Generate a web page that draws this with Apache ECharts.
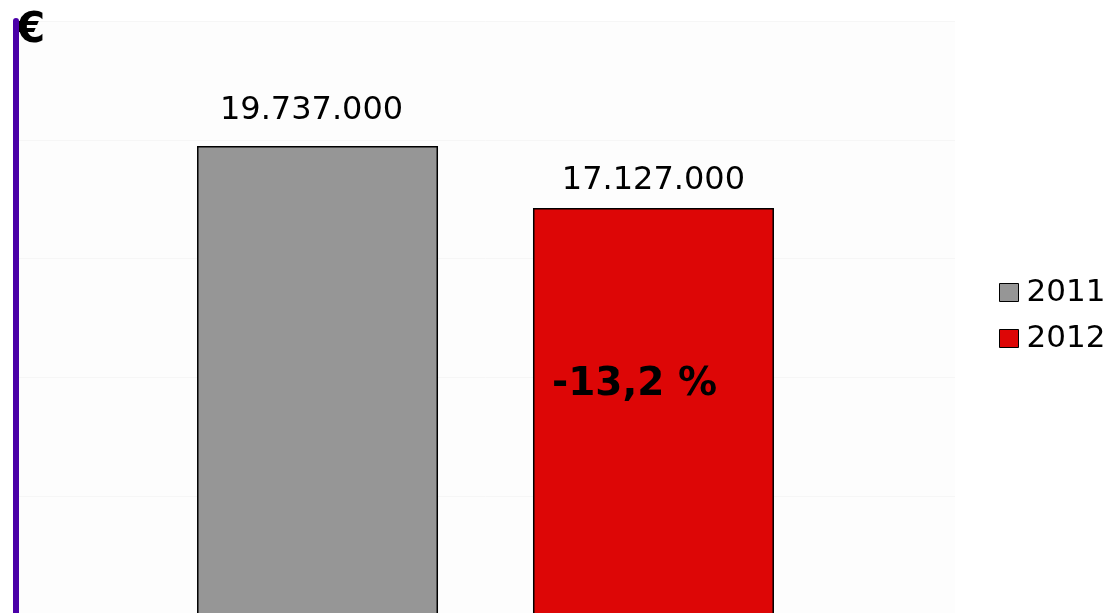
<!DOCTYPE html>
<html>
<head>
<meta charset="utf-8">
<script src="https://cdn.jsdelivr.net/npm/echarts@6/dist/echarts.min.js"></script>
<style>
html,body{margin:0;padding:0;background:#ffffff;}
#chart{width:1111px;height:613px;}
</style>
</head>
<body>
<div id="chart"></div>
<script>
var years = ['2011', '2012'];
var values = [19737000, 17127000];
var colors = ['#969696', '#DD0606'];
var changeText = '-13,2 %';
var axisName = '€';

function fmt(v) {
  return String(v).replace(/\B(?=(\d{3})+(?!\d))/g, '.');
}

var labelOffsets = [[-6, 0], [0, 8]];

var chart = echarts.init(document.getElementById('chart'));
var series = years.map(function (y, i) {
  return {
    name: y,
    type: 'bar',
    data: [values[i]],
    barWidth: 241,
    barGap: '39.4%',
    itemStyle: { color: colors[i], borderColor: '#000000', borderWidth: 1.5 },
    label: {
      show: true,
      position: 'top',
      distance: 19,
      offset: labelOffsets[i],
      formatter: function (p) { return fmt(p.value); },
      fontFamily: 'DejaVu Sans',
      fontSize: 32,
      color: '#000000'
    }
  };
});

chart.setOption({
  animation: false,
  backgroundColor: '#ffffff',
  grid: {
    left: 16, width: 939, top: 21, height: 594,
    outerBoundsMode: 'none',
    show: true, backgroundColor: '#fdfdfd', borderWidth: 0
  },
  legend: {
    orient: 'vertical',
    left: 999,
    top: 277,
    padding: 0,
    itemWidth: 19,
    itemHeight: 18,
    itemGap: 15,
    icon: 'rect',
    itemStyle: { borderColor: '#000000', borderWidth: 1 },
    textStyle: { fontFamily: 'DejaVu Sans', fontSize: 31, color: '#000000', padding: [0, 0, 0, 3] },
    data: years
  },
  xAxis: {
    type: 'category',
    data: [''],
    show: false
  },
  yAxis: {
    type: 'value',
    min: 0,
    max: 25000000,
    interval: 5000000,
    name: axisName,
    nameLocation: 'end',
    nameGap: -10,
    nameTextStyle: {
      fontFamily: 'DejaVu Sans', fontWeight: 'bold', fontSize: 42, color: '#000000',
      align: 'left', verticalAlign: 'middle', padding: [0, 0, 0, 0]
    },
    axisLine: { show: true, lineStyle: { color: '#4A00A8', width: 6 } },
    axisTick: { show: false },
    axisLabel: { show: false },
    splitLine: { show: true, lineStyle: { color: '#f6f6f6', width: 1 } }
  },
  graphic: [{
    type: 'text',
    z: 100,
    left: 552,
    top: 365,
    style: {
      text: changeText,
      fontFamily: 'DejaVu Sans',
      fontWeight: 'bold',
      fontSize: 39,
      fill: '#000000'
    }
  }],
  series: series
});
</script>
</body>
</html>
